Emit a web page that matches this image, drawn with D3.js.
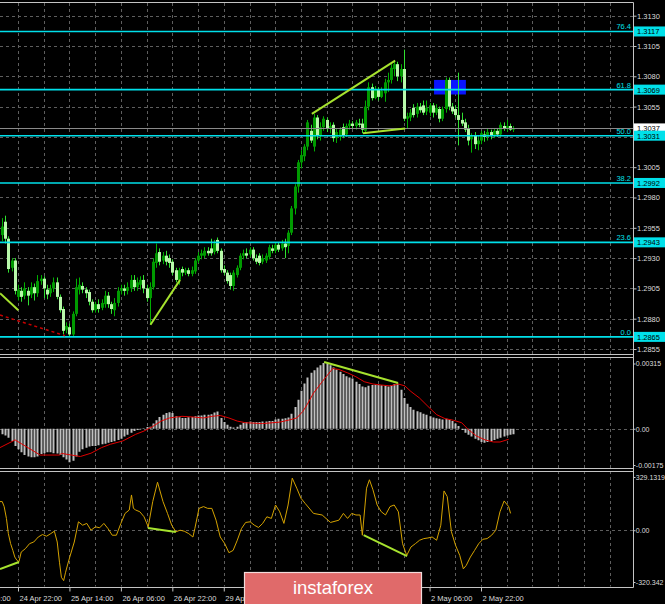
<!DOCTYPE html>
<html><head><meta charset="utf-8">
<script src="https://cdn.jsdelivr.net/npm/d3@7/dist/d3.min.js"></script>
<style>
html,body{margin:0;padding:0;background:#000;overflow:hidden;}
svg{display:block;}
text{font-family:"Liberation Sans",Arial,sans-serif;}
</style></head><body>
<svg id="c" width="665" height="604"></svg>
<script>
// ---------------- DATA ----------------
const firstBar = -5; // bar index of first candle (index 0 = 24 Apr 22:00, H1)
const opens = [1.2949,1.2960,1.2946,1.2922,1.2928,
1.2898,1.2903,1.2899,1.2903,1.2900,1.2906,1.2901,1.2911,1.2913,1.2904,
1.2901,1.2905,1.2910,1.2898,1.2888,1.2871,1.2873,1.2867,1.2884,1.2904,
1.2907,1.2904,1.2902,1.2894,1.2887,1.2892,1.2889,1.2892,1.2899,1.2892,
1.2887,1.2893,1.2903,1.2905,1.2903,1.2905,1.2912,1.2906,1.2908,1.2912,
1.2905,1.2897,1.2906,1.2926,1.2935,1.2928,1.2932,1.2930,1.2927,1.2920,
1.2912,1.2921,1.2918,1.2920,1.2917,1.2919,1.2928,1.2932,1.2932,1.2936,
1.2938,1.2935,1.2945,1.2936,1.2921,1.2918,1.2916,1.2907,1.2916,1.2922,
1.2932,1.2934,1.2933,1.2937,1.2930,1.2932,1.2927,1.2928,1.2931,1.2938,
1.2936,1.2941,1.2938,1.2942,1.2940,1.2951,1.2971,1.2989,1.3009,1.3014,
1.3022,1.3035,1.3022,1.3046,1.3031,1.3038,1.3044,1.3037,1.3040,1.3029,
1.3030,1.3038,1.3032,1.3039,1.3041,1.3039,1.3041,1.3041,1.3035,1.3055,
1.3071,1.3062,1.3069,1.3063,1.3066,1.3075,1.3077,1.3086,1.3090,1.3080,
1.3086,1.3045,1.3046,1.3054,1.3049,1.3055,1.3056,1.3051,1.3050,1.3056,
1.3050,1.3053,1.3045,1.3053,1.3077,1.3055,1.3053,1.3048,1.3044,1.3042,
1.3037,1.3028,1.3031,1.3024,1.3027,1.3032,1.3030,1.3034,1.3031,1.3035,
1.3032,1.3039,1.3037,1.3039,1.3036];
const highs = [1.2963,1.2965,1.2948,1.2930,1.2930,
1.2908,1.2906,1.2910,1.2906,1.2910,1.2909,1.2916,1.2916,1.2915,1.2908,
1.2908,1.2914,1.2914,1.2900,1.2890,1.2877,1.2876,1.2886,1.2913,1.2914,
1.2910,1.2906,1.2904,1.2896,1.2894,1.2896,1.2896,1.2903,1.2902,1.2894,
1.2897,1.2906,1.2908,1.2908,1.2910,1.2916,1.2916,1.2914,1.2915,1.2916,
1.2908,1.2910,1.2930,1.2942,1.2938,1.2935,1.2936,1.2933,1.2929,1.2922,
1.2922,1.2923,1.2922,1.2922,1.2923,1.2930,1.2935,1.2937,1.2939,1.2939,
1.2946,1.2945,1.2947,1.2938,1.2924,1.2920,1.2918,1.2920,1.2924,1.2934,
1.2937,1.2938,1.2939,1.2939,1.2933,1.2934,1.2933,1.2934,1.2941,1.2941,
1.2943,1.2943,1.2945,1.2946,1.2953,1.2973,1.2991,1.3011,1.3019,1.3024,
1.3044,1.3040,1.3049,1.3048,1.3042,1.3047,1.3046,1.3042,1.3042,1.3037,
1.3038,1.3041,1.3041,1.3044,1.3043,1.3044,1.3045,1.3045,1.3060,1.3075,
1.3074,1.3072,1.3071,1.3071,1.3078,1.3083,1.3090,1.3093,1.3092,1.3090,
1.3102,1.3050,1.3053,1.3057,1.3058,1.3058,1.3060,1.3060,1.3058,1.3058,
1.3057,1.3055,1.3055,1.3079,1.3079,1.3058,1.3056,1.3083,1.3050,1.3045,
1.3040,1.3033,1.3034,1.3031,1.3035,1.3035,1.3037,1.3036,1.3037,1.3037,
1.3042,1.3042,1.3044,1.3041,1.3039];
const lows = [1.2944,1.2942,1.2918,1.2919,1.2900,
1.2895,1.2894,1.2896,1.2891,1.2897,1.2895,1.2898,1.2908,1.2897,1.2896,
1.2898,1.2902,1.2896,1.2885,1.2867,1.2868,1.2865,1.2865,1.2882,1.2900,
1.2901,1.2897,1.2891,1.2885,1.2885,1.2885,1.2887,1.2889,1.2889,1.2884,
1.2882,1.2890,1.2900,1.2899,1.2900,1.2902,1.2903,1.2903,1.2904,1.2901,
1.2894,1.2875,1.2904,1.2922,1.2924,1.2925,1.2924,1.2922,1.2916,1.2910,
1.2908,1.2915,1.2916,1.2915,1.2915,1.2917,1.2926,1.2929,1.2930,1.2932,
1.2932,1.2933,1.2934,1.2918,1.2916,1.2909,1.2904,1.2903,1.2914,1.2920,
1.2929,1.2930,1.2931,1.2928,1.2925,1.2924,1.2925,1.2926,1.2929,1.2934,
1.2934,1.2935,1.2936,1.2930,1.2934,1.2949,1.2966,1.2984,1.3004,1.3010,
1.3019,1.3025,1.3018,1.3028,1.3027,1.3035,1.3034,1.3033,1.3026,1.3025,
1.3027,1.3029,1.3030,1.3036,1.3037,1.3036,1.3038,1.3033,1.3033,1.3052,
1.3060,1.3061,1.3060,1.3062,1.3059,1.3067,1.3074,1.3080,1.3076,1.3075,
1.3043,1.3037,1.3043,1.3046,1.3046,1.3050,1.3048,1.3048,1.3047,1.3046,
1.3048,1.3042,1.3043,1.3050,1.3052,1.3049,1.3046,1.3023,1.3039,1.3034,
1.3023,1.3017,1.3020,1.3019,1.3024,1.3026,1.3027,1.3028,1.3029,1.3030,
1.3030,1.3035,1.3034,1.3035,1.3034];
const closes = [1.2956,1.2946,1.2921,1.2928,1.2903,
1.2904,1.2898,1.2905,1.2899,1.2906,1.2901,1.2911,1.2913,1.2905,1.2900,
1.2905,1.2910,1.2898,1.2887,1.2870,1.2874,1.2867,1.2884,1.2906,1.2908,
1.2904,1.2901,1.2894,1.2887,1.2892,1.2888,1.2893,1.2899,1.2892,1.2888,
1.2893,1.2903,1.2905,1.2903,1.2906,1.2912,1.2906,1.2910,1.2912,1.2905,
1.2897,1.2906,1.2927,1.2934,1.2927,1.2932,1.2927,1.2926,1.2918,1.2912,
1.2920,1.2918,1.2920,1.2917,1.2920,1.2928,1.2932,1.2934,1.2936,1.2934,
1.2934,1.2942,1.2936,1.2920,1.2918,1.2911,1.2907,1.2918,1.2922,1.2932,
1.2934,1.2932,1.2937,1.2930,1.2927,1.2926,1.2930,1.2932,1.2939,1.2936,
1.2941,1.2937,1.2942,1.2939,1.2951,1.2971,1.2989,1.3009,1.3015,1.3022,
1.3042,1.3027,1.3046,1.3031,1.3038,1.3045,1.3037,1.3039,1.3029,1.3034,
1.3036,1.3031,1.3039,1.3041,1.3039,1.3042,1.3040,1.3036,1.3055,1.3071,
1.3062,1.3069,1.3063,1.3068,1.3075,1.3077,1.3087,1.3090,1.3080,1.3086,
1.3045,1.3047,1.3050,1.3048,1.3055,1.3052,1.3050,1.3054,1.3056,1.3050,
1.3054,1.3045,1.3053,1.3077,1.3055,1.3051,1.3048,1.3044,1.3041,1.3036,
1.3027,1.3031,1.3024,1.3027,1.3033,1.3030,1.3034,1.3031,1.3035,1.3032,
1.3040,1.3037,1.3039,1.3036,1.3037];

const macdHist = [-0.00027,-0.00032,-0.00043,-0.00059,-0.00083,
-0.00099,-0.00114,-0.00127,-0.00134,-0.00138,-0.00138,-0.00134,-0.00122,-0.00118,-0.00114,
-0.00114,-0.00118,-0.00119,-0.00127,-0.00138,-0.00149,-0.00162,-0.00154,-0.00134,-0.00111,
-0.00099,-0.00092,-0.00086,-0.00083,-0.00083,-0.00080,-0.00075,-0.00072,-0.00067,-0.00064,
-0.00060,-0.00054,-0.00048,-0.00038,-0.00029,-0.00019,-0.00011,-0.00006,-0.00003,0.00002,
0.00008,0.00010,0.00025,0.00041,0.00057,0.00068,0.00076,0.00080,0.00076,0.00060,
0.00056,0.00052,0.00052,0.00056,0.00057,0.00060,0.00064,0.00064,0.00067,0.00067,
0.00070,0.00079,0.00083,0.00052,0.00032,0.00019,0.00010,0.00006,0.00010,0.00019,
0.00029,0.00033,0.00035,0.00033,0.00032,0.00033,0.00035,0.00035,0.00037,0.00038,
0.00045,0.00048,0.00048,0.00051,0.00054,0.00073,0.00105,0.00140,0.00183,0.00219,
0.00248,0.00270,0.00283,0.00296,0.00307,0.00318,0.00315,0.00307,0.00296,0.00286,
0.00275,0.00264,0.00254,0.00248,0.00242,0.00227,0.00216,0.00204,0.00200,0.00207,
0.00211,0.00213,0.00211,0.00210,0.00207,0.00204,0.00210,0.00216,0.00219,0.00188,
0.00148,0.00121,0.00105,0.00092,0.00084,0.00080,0.00073,0.00067,0.00060,0.00054,
0.00051,0.00048,0.00045,0.00048,0.00045,0.00037,0.00025,0.00013,-0.00006,-0.00019,
-0.00029,-0.00038,-0.00048,-0.00056,-0.00064,-0.00067,-0.00064,-0.00059,-0.00054,-0.00048,
-0.00043,-0.00038,-0.00032,-0.00029,-0.00027];

const sigIdx = [-5.6,-0.9,6.9,12.9,13.5,19.4,22.7,26,28.7,32.6,36.6,39.2,41.8,44.5,47.1,51,55,57.7,60.3,62.9,65.6,68.2,70.8,76.1,81.4,84,86.7,88.6,89.9,91.9,94.6,97.9,99.8,102.5,105.1,107.7,110.4,113,115.7,118.3,120.3,122.2,124.9,127.5,130.2,132.8,135.4,138,140,142.6,145.3,147.9,149.9,152.6];
const sigVal = [-0.00091,-0.00054,-0.00127,-0.00127,-0.00119,-0.00134,-0.00118,-0.00091,-0.00075,-0.00059,-0.00027,-0.00011,0.00010,0.00037,0.00052,0.00060,0.00056,0.00052,0.00060,0.00064,0.00052,0.00037,0.00029,0.00025,0.00032,0.00041,0.00052,0.00084,0.00116,0.00172,0.00227,0.00291,0.00286,0.00270,0.00251,0.00227,0.00216,0.00211,0.00207,0.00216,0.00207,0.00180,0.00148,0.00108,0.00068,0.00049,0.00041,0.00029,-0.00003,-0.00035,-0.00054,-0.00064,-0.00064,-0.00051];

const cciIdx = [-5.6,-4.9,-4.3,-3.6,-3.0,-2.3,-1.6,-1.0,-0.3,0.3,
1.0,2.3,3.6,4.9,6.3,7.6,8.9,10.2,11.3,12.2,
12.9,13.5,14.2,14.8,15.5,16.1,17.5,18.8,20.1,21.4,
22.7,24.1,25.4,26.7,28,29.3,30.6,32,33.3,34.6,
35.3,35.9,36.6,37.9,39.2,40.5,41.9,43.4,45.1,46.5,
47.8,49.1,50.4,51.7,53.1,54.4,55.0,56.3,57.7,59,
60.3,61.6,62.9,64.3,65.6,66.9,68.2,69.5,70.8,72.2,
73.5,74.8,76.1,77.4,78.8,80.1,81.4,82.7,84,85.3,
86.7,88,89.3,91.9,94.6,97.2,99.8,101.2,102.5,103.8,
105.1,106.4,107.1,108.4,109.3,110.4,111.7,113,114.3,115.7,
117,118.3,119.6,120.9,122.2,123.6,124.9,126.2,127.5,128.8,
130.2,131.5,132.5,133.5,134.8,136.1,137.4,138.5,139.4,140.7,
142,143.3,144.6,145.9,147.3,148.6,149.9,151.2,152.6,153.2];
const cciVal = [177,177,146,73,-21,-83,-125,-166,-187,-195,
-135,-114,-83,-73,-42,-27,-37,-21,-6,-73,
-198,-291,-312,-260,-208,-166,-73,52,31,42,
0,21,15,42,10,-31,-31,42,104,125,
218,135,125,114,83,21,177,297,177,104,
31,-10,0,-6,-21,-42,10,135,146,135,
135,62,-42,-83,-139,-125,-62,10,48,52,
31,17,42,83,73,156,114,42,156,322,
260,198,166,104,94,48,62,104,73,104,
94,94,-31,260,312,250,156,114,94,146,
156,114,-83,-156,-104,-83,-62,-52,-48,-42,
-62,31,243,208,-10,-94,-156,-239,-218,-166,
-125,-83,-56,-52,-31,0,114,181,146,104];

const fibLevels = [76.4, 61.8, 50.0, 38.2, 23.6, 0.0];
const fibPrices = [1.3117, 1.3069, 1.3031, 1.2992, 1.2943, 1.2865];
const bidPrice = 1.3037;
const priceGrid = [1.3130,1.3105,1.3080,1.3055,1.3030,1.3005,1.2980,1.2955,1.2930,1.2905,1.2880,1.2855];
const priceTicks = [1.3130,1.3105,1.3080,1.3055,1.3005,1.2980,1.2955,1.2930,1.2905,1.2880,1.2855];
const macdTicks = [0.00315, 0, -0.00175];
const macdTickLabels = ["0.00315","0.00","-0.00175"];
const cciTicks = [329.1319, 0, -320.342];
const cciTickLabels = ["329.1319","0.00","-320.342"];
const timeTickIdx = [-16,0,16,32,48,64,80,96,112,128,144];
const timeTickLabels = ["24 Apr 06:00","24 Apr 22:00","25 Apr 14:00","26 Apr 06:00","26 Apr 22:00","29 Apr 14:00","30 Apr 06:00","30 Apr 22:00","1 May 14:00","2 May 06:00","2 May 22:00"];

// trend lines [barIndex, value]
const priceTrendA = [[-5.6,1.2901],[0.1,1.2887]];
const priceTrendB = [[41.2,1.2875],[50.4,1.2912]];
const priceTrendC = [[91.4,1.3049],[117.3,1.3093]];
const priceTrendD = [[107.3,1.3033],[120.4,1.3037]];
const priceRedDash = [[-5.6,1.2883],[14.6,1.2866]];
const macdTrend = [[95.2,0.00322],[118.2,0.00221]];
const cciTrendA = [[-5.6,-240],[0.3,-197]];
const cciTrendB = [[40.4,14],[49.1,-11]];
const cciTrendC = [[107.5,-30],[121,-160]];
const blueZone = [[129.4,1.3077],[139.3,1.3065]];
const watermark = "instaforex";

// ---------------- LAYOUT ----------------
const R = 633;
const x = d3.scaleLinear().domain([0,144]).range([18,481]);
const yP = d3.scaleLinear().domain([1.2855,1.3130]).range([349,15.7]);
const yM = d3.scaleLinear().domain([-0.00175,0.00315]).range([465,363.5]);
const yC = d3.scaleLinear().domain([-320.342,329.1319]).range([582,477]);

const GRID = "#5e5e5e", BORDER = "#c4c4c4", AXT = "#dcdcdc";
const CYAN = "#00e0ea", TREND = "#a6e22e";
const FS = 7.5, FS_IND = 7;

const svg = d3.select("#c");
svg.append("rect").attr("width",665).attr("height",604).attr("fill","#000");
const defs = svg.append("defs");
function clip(id,y0,y1){ defs.append("clipPath").attr("id",id).append("rect").attr("x",0).attr("y",y0).attr("width",R).attr("height",y1-y0); }
clip("cm",3,354); clip("cd",357.5,468); clip("cc",471.5,586.5);

const gMain = svg.append("g").attr("clip-path","url(#cm)");
const gMacd = svg.append("g").attr("clip-path","url(#cd)");
const gCci  = svg.append("g").attr("clip-path","url(#cc)");

const gridIdx = d3.range(0,192,8);
function vgrid(g,y0,y1){
  g.append("g").selectAll("line").data(gridIdx).join("line")
   .attr("x1",d=>Math.round(x(d))+0.5).attr("x2",d=>Math.round(x(d))+0.5)
   .attr("y1",y0).attr("y2",y1).attr("stroke",GRID).attr("stroke-dasharray","3,3");
}
function hline(g,y,color,dash,w){
  return g.append("line").attr("x1",0).attr("x2",R).attr("y1",y).attr("y2",y)
   .attr("stroke",color).attr("stroke-width",w||1).attr("stroke-dasharray",dash||null);
}
vgrid(gMain,3,354); vgrid(gMacd,357,468); vgrid(gCci,471,587);
gMain.append("g").selectAll("line").data(priceGrid).join("line")
  .attr("x1",0).attr("x2",R).attr("y1",d=>Math.round(yP(d))+0.5).attr("y2",d=>Math.round(yP(d))+0.5)
  .attr("stroke",GRID).attr("stroke-dasharray","3,3");
hline(gMacd,Math.round(yM(0))+0.5,GRID,"3,3");
hline(gCci,Math.round(yC(0))+0.5,GRID,"3,3");

// blue zone
gMain.append("rect")
  .attr("x",x(blueZone[0][0])).attr("width",x(blueZone[1][0])-x(blueZone[0][0]))
  .attr("y",yP(blueZone[0][1])).attr("height",yP(blueZone[1][1])-yP(blueZone[0][1]))
  .attr("fill","#0a14ff");

// candles
const bars = opens.map((o,k)=>({i:firstBar+k,o,h:highs[k],l:lows[k],c:closes[k]}));
const cg = gMain.append("g");
cg.selectAll("line").data(bars).join("line")
  .attr("x1",d=>Math.round(x(d.i))+0.5).attr("x2",d=>Math.round(x(d.i))+0.5)
  .attr("y1",d=>yP(d.h)).attr("y2",d=>yP(d.l))
  .attr("stroke",d=>d.c>=d.o?"#00b000":"#30e030").attr("stroke-width",1);
cg.selectAll("rect").data(bars).join("rect")
  .attr("x",d=>Math.round(x(d.i))-1).attr("width",3)
  .attr("y",d=>yP(Math.max(d.o,d.c)))
  .attr("height",d=>Math.max(1,yP(Math.min(d.o,d.c))-yP(Math.max(d.o,d.c))))
  .attr("fill",d=>d.c>=d.o?"#009a00":"#b8f8aa");

// fib lines
fibPrices.forEach((p,k)=>{
  hline(gMain,yP(p),CYAN,null,1.6);
  gMain.append("text").attr("x",631).attr("y",yP(p)-2).attr("text-anchor","end")
    .attr("fill",CYAN).attr("font-size",FS).text(d3.format(".1f")(fibLevels[k]));
});
// bid line
hline(gMain,Math.round(yP(bidPrice))+0.5,"#8a8a8a",null,1);

// trend lines
const lineP = d3.line().x(d=>x(d[0])).y(d=>yP(d[1]));
const lineM = d3.line().x(d=>x(d[0])).y(d=>yM(d[1]));
const lineC = d3.line().x(d=>x(d[0])).y(d=>yC(d[1]));
[priceTrendA,priceTrendB,priceTrendC,priceTrendD].forEach(t=>{
  gMain.append("path").attr("d",lineP(t)).attr("fill","none").attr("stroke",TREND).attr("stroke-width",2);
});
gMain.append("path").attr("d",lineP(priceRedDash)).attr("fill","none").attr("stroke","#c80000")
  .attr("stroke-width",1.5).attr("stroke-dasharray","3,3");

// MACD
gMacd.append("g").selectAll("line").data(macdHist).join("line")
  .attr("x1",(d,k)=>Math.round(x(firstBar+k))+0.5).attr("x2",(d,k)=>Math.round(x(firstBar+k))+0.5)
  .attr("y1",yM(0)).attr("y2",d=>yM(d))
  .attr("stroke","#c0c0c0").attr("stroke-width",2);
gMacd.append("path").attr("d",lineM(sigIdx.map((v,k)=>[v,sigVal[k]])))
  .attr("fill","none").attr("stroke","#e00000").attr("stroke-width",1);
gMacd.append("path").attr("d",lineM(macdTrend)).attr("fill","none").attr("stroke",TREND).attr("stroke-width",2);

// CCI
gCci.append("path").attr("d",lineC(cciIdx.map((v,k)=>[v,cciVal[k]])))
  .attr("fill","none").attr("stroke","#d4a200").attr("stroke-width",1);
[cciTrendA,cciTrendB,cciTrendC].forEach(t=>{
  gCci.append("path").attr("d",lineC(t)).attr("fill","none").attr("stroke",TREND).attr("stroke-width",2);
});

// borders
const b = svg.append("g").attr("stroke",BORDER).attr("stroke-width",1);
[2.5,354.5,357.5,468.5,471.5,587.5].forEach(y=>b.append("line").attr("x1",0).attr("x2",R+0.5).attr("y1",y).attr("y2",y));
b.append("line").attr("x1",R+0.5).attr("x2",R+0.5).attr("y1",2.5).attr("y2",587.5);

// axes
function styleAxis(fs){
  return g=>{
    g.select(".domain").remove();
    g.selectAll(".tick line").attr("stroke",BORDER);
    g.selectAll(".tick text").attr("fill",AXT).attr("font-size",fs).attr("font-family","Liberation Sans, Arial, sans-serif");
  };
}
svg.append("g").attr("transform",`translate(${R+0.5},0)`)
  .call(d3.axisRight(yP).tickValues(priceTicks).tickSize(3).tickPadding(0.5).tickFormat(d3.format(".4f")))
  .call(styleAxis(FS));
svg.append("g").attr("transform",`translate(${R+0.5},0)`)
  .call(d3.axisRight(yM).tickValues(macdTicks).tickSize(2).tickPadding(0.3).tickFormat((d,k)=>macdTickLabels[k]))
  .call(styleAxis(FS_IND));
svg.append("g").attr("transform",`translate(${R+0.5},0)`)
  .call(d3.axisRight(yC).tickValues(cciTicks).tickSize(2).tickPadding(0.3).tickFormat((d,k)=>cciTickLabels[k]))
  .call(styleAxis(FS_IND));
const xa = svg.append("g").attr("transform","translate(0,587.5)")
  .call(d3.axisBottom(x).tickValues(timeTickIdx).tickSize(4).tickPadding(4).tickFormat((d,k)=>timeTickLabels[k]))
  .call(styleAxis(FS));
xa.selectAll(".tick text").attr("text-anchor","start").attr("dx",1);

// bid label
const bidY = yP(bidPrice);
svg.append("rect").attr("x",R+1).attr("y",bidY-5).attr("width",32).attr("height",10).attr("fill","#ffffff");
svg.append("text").attr("x",R+4).attr("y",bidY+3).attr("fill","#000").attr("font-size",FS).text(d3.format(".4f")(bidPrice));
// fib price boxes
fibPrices.forEach(p=>{
  const yy = yP(p);
  svg.append("rect").attr("x",R+1).attr("y",yy-5).attr("width",32).attr("height",10).attr("fill",CYAN);
  svg.append("text").attr("x",R+4).attr("y",yy+3).attr("fill","#000").attr("font-size",FS).text(d3.format(".4f")(p));
});

// watermark
svg.append("rect").attr("x",244.5).attr("y",572.5).attr("width",177).attr("height",40)
  .attr("fill","#e06a6a").attr("stroke","#f2dada").attr("stroke-width",1.2);
svg.append("text").attr("x",333).attr("y",594).attr("text-anchor","middle")
  .attr("fill","#ffffff").attr("font-size",18.5).attr("font-family","Open Sans, sans-serif").text(watermark);
</script>
</body></html>
